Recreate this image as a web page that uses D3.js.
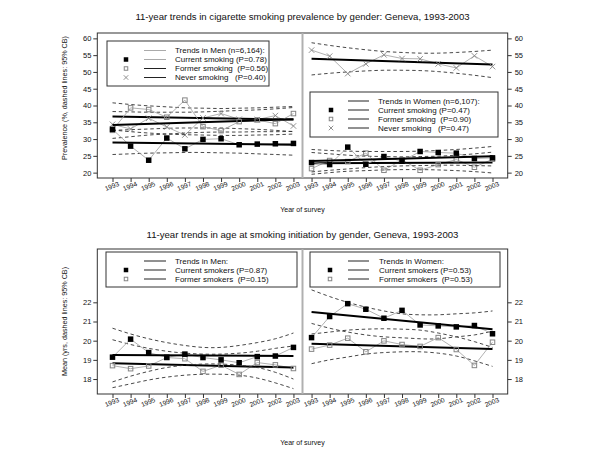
<!DOCTYPE html>
<html><head><meta charset="utf-8">
<script src="https://cdn.jsdelivr.net/npm/d3@7"></script>
<style>body{margin:0;background:#fff}text{font-family:"Liberation Sans",Arial,sans-serif;fill:#111}</style>
</head><body><svg id="c" width="600" height="450"></svg>
<script>
// ---------- data ----------
const years = [1993,1994,1995,1996,1997,1998,1999,2000,2001,2002,2003];
const prevTicks = [20,25,30,35,40,45,50,55,60];
const ageTicks = [18,19,20,21,22];

// Top: prevalence (%), Men
const menCurrent = [32.9,27.9,23.7,30.3,27.1,29.9,30.1,28.3,28.5,28.6,28.7];
const menFormer  = [32.6,39.3,38.8,36.5,41.6,33.7,32.5,35.2,35.7,34.6,37.6];
const menNever   = [34.4,33.0,36.2,33.6,31.2,36.3,37.6,35.9,35.8,37.0,33.9];
const menCurrentTrend = [29.0,28.3];
const menFormerTrend  = [34.2,35.9];
const menNeverTrend   = [36.7,35.8];
const menCurrentUp = [32.7,32.2,31.8,31.5,31.3,31.2,31.1,31.1,31.2,31.3,31.5];
const menCurrentLo = [25.4,25.6,25.8,25.9,26.0,26.0,25.9,25.8,25.6,25.4,25.2];
const menFormerUp  = [38.2,38.1,38.0,38.0,38.0,38.1,38.3,38.5,38.7,39.0,39.4];
const menFormerLo  = [30.2,30.7,31.2,31.5,31.8,32.0,32.1,32.1,32.2,32.2,32.3];
const menNeverUp   = [40.8,40.3,39.9,39.6,39.3,39.2,39.1,39.2,39.3,39.5,39.7];
const menNeverLo   = [32.6,32.8,33.0,33.2,33.3,33.3,33.3,33.1,32.9,32.6,32.2];

// Top: prevalence (%), Women
const womCurrent = [23.0,22.4,27.6,22.5,24.8,23.4,26.3,26.0,25.8,24.2,24.4];
const womFormer  = [21.2,23.6,23.3,25.8,20.7,23.8,20.7,22.4,23.9,21.6,24.0];
const womNever   = [56.5,54.7,49.5,52.4,55.1,54.0,53.9,52.4,51.2,54.8,51.6];
const womCurrentTrend = [23.5,24.9];
const womFormerTrend  = [22.8,23.0];
const womNeverTrend   = [53.9,52.2];
const womCurrentUp = [26.9,26.6,26.4,26.3,26.3,26.3,26.4,26.6,26.9,27.3,27.8];
const womCurrentLo = [20.2,20.7,21.1,21.5,21.8,22.0,22.1,22.2,22.2,22.1,22.0];
const womFormerUp  = [26.0,25.6,25.2,24.9,24.8,24.7,24.8,24.9,25.2,25.6,26.1];
const womFormerLo  = [19.5,20.0,20.4,20.6,20.8,20.9,20.9,20.8,20.6,20.3,19.9];
const womNeverUp   = [58.7,57.9,57.2,56.6,56.1,55.8,55.6,55.6,55.8,56.1,56.5];
const womNeverLo   = [49.1,49.6,50.0,50.3,50.5,50.5,50.4,50.1,49.6,49.0,48.3];

// Bottom: mean age at initiation, Men
const menCurAge  = [19.14,20.08,19.38,19.13,19.30,19.12,19.00,18.85,19.17,19.20,19.65];
const menFormAge = [18.70,18.54,18.68,19.12,19.06,18.40,18.72,18.24,18.86,18.74,18.55];
const menCurAgeTrend  = [19.25,19.20];
const menFormAgeTrend = [18.82,18.60];
const menCurAgeUp  = [20.65,20.35,20.10,19.90,19.75,19.65,19.65,19.75,19.90,20.10,20.40];
const menCurAgeLo  = [17.85,18.15,18.40,18.60,18.72,18.78,18.78,18.72,18.60,18.35,18.00];
const menFormAgeUp = [20.05,19.80,19.60,19.45,19.35,19.30,19.30,19.35,19.45,19.60,19.72];
const menFormAgeLo = [17.55,17.75,17.95,18.10,18.20,18.25,18.25,18.20,18.05,17.80,17.50];

// Bottom: mean age at initiation, Women
const womCurAge  = [20.16,21.26,21.93,21.64,21.17,21.58,20.82,20.77,20.72,20.79,20.36];
const womFormAge = [19.56,19.77,20.13,19.42,19.99,19.80,19.70,20.16,19.54,18.71,19.92];
const womCurAgeTrend  = [21.50,20.60];
const womFormAgeTrend = [19.84,19.56];
const womCurAgeUp  = [22.65,22.30,22.00,21.75,21.55,21.40,21.35,21.35,21.40,21.45,21.55];
const womCurAgeLo  = [20.35,20.45,20.55,20.60,20.62,20.60,20.55,20.40,20.20,19.95,19.65];
const womFormAgeUp = [20.90,20.65,20.45,20.30,20.20,20.15,20.10,20.10,20.20,20.30,20.50];
const womFormAgeLo = [18.80,19.00,19.15,19.30,19.38,19.42,19.42,19.35,19.20,18.95,18.66];

// Texts
const titleTop = "11-year trends in cigarette smoking prevalence by gender: Geneva, 1993-2003";
const titleBottom = "11-year trends in age at smoking initiation by gender, Geneva, 1993-2003";
const yTitleTop = "Prevalence (%, dashed lines: 95% CB)";
const yTitleBottom = "Mean (yrs, dashed lines: 95% CB)";
const xTitle = "Year of survey";
const legMenTop = ["Trends in Men (n=6,164):","Current smoking (P=0.78)","Former smoking  (P=0.56)","Never smoking   (P=0.40)"];
const legWomTop = ["Trends in Women (n=6,107):","Current smoking (P=0.47)","Former smoking  (P=0.90)","Never smoking   (P=0.47)"];
const legMenBot = ["Trends in Men:","Current smokers (P=0.87)","Former smokers  (P=0.15)"];
const legWomBot = ["Trends in Women:","Current smokers (P=0.53)","Former smokers  (P=0.53)"];

// ---------- drawing ----------
const svg = d3.select("#c");
const L = 97.3, R = 507.7;
const x = d3.scaleLinear().domain([0.16,22.84]).range([L,R]);
const px = (i, side) => x(i + 1 + (side ? 11 : 0));
const GRAY = "#a8a8a8", PT = "#858585";

function panel(y, top, bottom, ticks) {
  const g = svg.append("g");
  const la = g.append("g").attr("transform",`translate(${L},0)`)
    .call(d3.axisLeft(y).tickValues(ticks).tickSize(4).tickPadding(2));
  const ra = g.append("g").attr("transform",`translate(${R},0)`)
    .call(d3.axisRight(y).tickValues(ticks).tickSize(4).tickPadding(3));
  const ba = g.append("g").attr("transform",`translate(0,${bottom})`)
    .call(d3.axisBottom(x).tickValues(d3.range(1,23)).tickFormat(d => years[(d-1)%11]).tickSize(4).tickPadding(3));
  [la,ra,ba].forEach(a => {
    a.select(".domain").remove();
    a.selectAll("line").attr("stroke","#333");
    a.selectAll("text").style("font-size","7.5px").attr("fill","#222");
  });
  ba.selectAll("text").style("font-size","6.6px").attr("dy","0.5em").attr("transform","rotate(-22,0,11)");
  g.append("rect").attr("x",L).attr("y",top).attr("width",R-L).attr("height",bottom-top)
    .attr("fill","none").attr("stroke","#333").attr("stroke-width",1);
  g.append("line").attr("x1",x(11.5)).attr("x2",x(11.5)).attr("y1",top).attr("y2",bottom)
    .attr("stroke","#b0b0b0").attr("stroke-width",2);
  return g;
}

function series(g, y, side, vals, up, lo, trend, marker) {
  const lineGen = d3.line().x((d,i) => px(i,side)).y(d => y(d));
  const cbGen = d3.line().x((d,i) => px(i,side)).y(d => y(d)).curve(d3.curveNatural);
  [up, lo].forEach(arr => g.append("path").attr("d", cbGen(arr)).attr("fill","none")
    .attr("stroke","#333").attr("stroke-width",0.9).attr("stroke-dasharray","3.5,2.8"));
  g.append("path").attr("d", lineGen(vals)).attr("fill","none").attr("stroke",GRAY).attr("stroke-width",0.9);
  g.append("line").attr("x1",px(0,side)).attr("x2",px(10,side))
    .attr("y1",y(trend[0])).attr("y2",y(trend[1])).attr("stroke","#000").attr("stroke-width",2);
  g.append("g").attr("class","mk").datum({vals, side, y, marker});
}

function markers(g) {
  g.selectAll("g.mk").each(function(o) {
    const m = d3.select(this);
    o.vals.forEach((v,i) => drawMarker(m, px(i,o.side), o.y(v), o.marker, 5.5));
  });
}

function drawMarker(sel, cx, cy, type, s) {
  if (type === "filled") {
    sel.append("rect").attr("x",cx-s/2).attr("y",cy-s/2).attr("width",s).attr("height",s).attr("fill","#000");
  } else if (type === "open") {
    sel.append("rect").attr("x",cx-s/2+0.5).attr("y",cy-s/2+0.5).attr("width",s-1).attr("height",s-1)
      .attr("fill","none").attr("stroke",PT).attr("stroke-width",1);
  } else {
    const h = s/2;
    sel.append("path").attr("d",`M${cx-h},${cy-h}L${cx+h},${cy+h}M${cx-h},${cy+h}L${cx+h},${cy-h}`)
      .attr("stroke",PT).attr("stroke-width",0.9);
  }
}

function legend(box, rows, rowY, symX, lineX1, lineX2, textX, symbols, lineCols) {
  svg.append("rect").attr("x",box[0]).attr("y",box[1]).attr("width",box[2]-box[0]).attr("height",box[3]-box[1])
    .attr("fill","#fff").attr("stroke","#333").attr("stroke-width",1);
  rows.forEach((t,i) => {
    const yy = rowY[i];
    if (symbols[i]) drawMarker(svg, symX, yy, symbols[i], 4.5);
    svg.append("line").attr("x1",lineX1).attr("x2",lineX2).attr("y1",yy).attr("y2",yy)
      .attr("stroke",lineCols[i]).attr("stroke-width",1);
    svg.append("text").attr("x",textX).attr("y",yy).attr("dy","0.35em").style("font-size","8px")
      .style("white-space","pre").text(t);
  });
}

// ----- top panel -----
const yT = d3.scaleLinear().domain([18.4,61.6]).range([178,33]);
const gT = panel(yT, 33, 178, prevTicks);
series(gT, yT, 0, menNever, menNeverUp, menNeverLo, menNeverTrend, "x");
series(gT, yT, 0, menFormer, menFormerUp, menFormerLo, menFormerTrend, "open");
series(gT, yT, 0, menCurrent, menCurrentUp, menCurrentLo, menCurrentTrend, "filled");
series(gT, yT, 1, womNever, womNeverUp, womNeverLo, womNeverTrend, "x");
series(gT, yT, 1, womFormer, womFormerUp, womFormerLo, womFormerTrend, "open");
series(gT, yT, 1, womCurrent, womCurrentUp, womCurrentLo, womCurrentTrend, "filled");
markers(gT);

// ----- bottom panel -----
const yB = d3.scaleLinear().domain([17.22,24.78]).range([394,249]);
const gB = panel(yB, 249, 394, ageTicks);
series(gB, yB, 0, menFormAge, menFormAgeUp, menFormAgeLo, menFormAgeTrend, "open");
series(gB, yB, 0, menCurAge, menCurAgeUp, menCurAgeLo, menCurAgeTrend, "filled");
series(gB, yB, 1, womFormAge, womFormAgeUp, womFormAgeLo, womFormAgeTrend, "open");
series(gB, yB, 1, womCurAge, womCurAgeUp, womCurAgeLo, womCurAgeTrend, "filled");
markers(gB);

// legends
legend([107,41,269,86], legMenTop, [50.5,59.5,68.5,77.5], 126, 144, 166, 175,
  [null,"filled","open","x"], ["#aaa","#aaa","#222","#222"]);
legend([310,92,498,137], legWomTop, [101,110,119,128], 331, 348, 369, 378,
  [null,"filled","open","x"], ["#222","#222","#222","#222"]);
legend([106,252,297,287], legMenBot, [261,270,279], 126, 144, 166, 175,
  [null,"filled","open"], ["#222","#222","#222"]);
legend([310,252,500,287], legWomBot, [261,270,279], 330, 348, 369, 379,
  [null,"filled","open"], ["#222","#222","#222"]);

// titles
const cx = (L+R)/2;
svg.append("text").attr("x",cx).attr("y",17).attr("dy","0.35em").attr("text-anchor","middle").style("font-size","9.6px").text(titleTop);
svg.append("text").attr("x",cx).attr("y",235).attr("dy","0.35em").attr("text-anchor","middle").style("font-size","9.6px").text(titleBottom);
svg.append("text").attr("x",cx).attr("y",210).attr("dy","0.35em").attr("text-anchor","middle").style("font-size","7px").text(xTitle);
svg.append("text").attr("x",cx).attr("y",443).attr("dy","0.35em").attr("text-anchor","middle").style("font-size","7px").text(xTitle);
svg.append("text").attr("transform",`translate(64,98) rotate(-90)`).attr("dy","0.35em").attr("text-anchor","middle").style("font-size","7.2px").text(yTitleTop);
svg.append("text").attr("transform",`translate(64,${(249+394)/2}) rotate(-90)`).attr("dy","0.35em").attr("text-anchor","middle").style("font-size","7.2px").text(yTitleBottom);
</script></body></html>
